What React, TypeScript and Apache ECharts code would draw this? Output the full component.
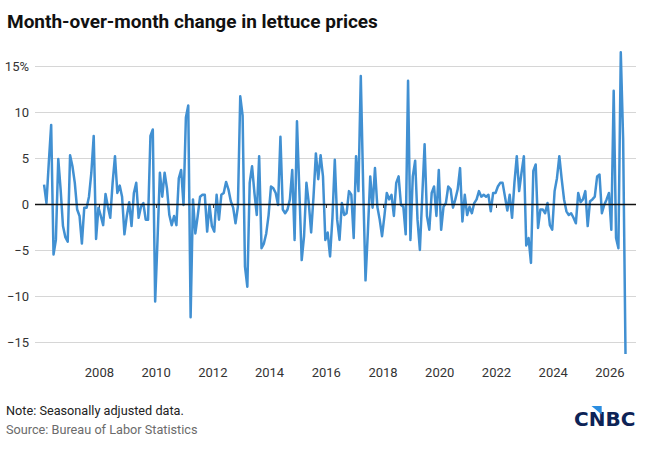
import React, { useEffect, useRef } from "react";
import * as echarts from "echarts";

// Month-over-month % change in lettuce prices (seasonally adjusted)
const START_YEAR = 2006.05; // position of the first monthly observation on the year axis
const valuesPart1: number[] = [
  2.1, 0.1, 4.5, 8.6, -5.5, -3.9, 4.9, 1.6, -2.4, -3.6, -4.1, 5.3, 4.1, 2.3, -0.6, -1.3,
  -4.3, -0.4, -0.4, 0.8, 3.4, 7.4, -3.8, -0.4, -1.3, -2.3, 1.1, -0.3, -1.5, 2.3, 5.2, 1.2,
  2.0, 0.8, -3.3, -1.3, 0.2, -2.4, 1.2, 2.3, -1.5,
];
const valuesPart2: number[] = [
  -0.3, 0.1, -1.7, -1.7, 7.4, 8.1, -10.6, -3.9, 3.4, 0.8, 3.4, 1.7, -1.2, -2.3, -1.3, -2.3,
  2.8, 3.7, -0.1, 9.4, 10.7, -12.3, 0.5, -3.2, -1.3, 0.8, 1.0, 1.0, -3.0, -0.1, -2.4, -3.0,
  1.0, -1.7, 1.0, 1.2, 2.4, 1.6, 0.3, -0.4, -2.1, -0.3, 11.7, 9.6, -6.8, -9.0,
];
const valuesPart3: number[] = [
  2.3, 4.1, 1.2, -1.2, 5.2, -4.8, -4.3, -3.2, -1.2, 1.9, 1.7, 1.2, -0.1, 7.3, -0.6, -1.0,
  -0.6, 0.5, 3.7, -3.9, 9.0, 1.5, -6.1, -3.5, 2.3, 0.1, -3.1, 0.8, 5.5, 2.7, 5.3, 3.0,
  -3.9, -3.1, -5.7, -1.5, 4.8, -1.7, -3.9, 0.1, -1.2, -1.0, 1.4, 1.0, -3.7, 5.2, 1.4, 13.9,
  2.0, -8.3, -3.0,
];
const valuesPart4: number[] = [
  3.0, -0.4, 3.9, -0.3, -1.7, -3.5, -1.3, 1.2, 0.5, 1.0, -1.3, 2.3, 3.0, -0.1, -0.3, -3.3,
  13.4, -3.9, 3.0, 4.7, -1.7, -5.0, 0.8, 6.5, -1.3, -2.8, 1.2, 1.9, -1.3, 3.7, -2.8, -0.3,
  0.1, 1.9, 1.6, -0.4, 0.5, 1.6, 3.9, -1.9, 1.0, -1.2, -0.3, -1.0, 0.1, 0.5, 1.4, 0.8,
  1.0, 0.8, 1.0,
];
const valuesPart5: number[] = [
  -0.8, 1.2, 1.2, 1.9, 2.3, 2.3, 0.8, -0.7, 1.0, -1.5, 2.3, 5.2, 1.4, 3.4, 5.2, -4.5,
  -3.7, -6.4, 3.6, 4.3, -2.6, -0.6, -0.6, -1.0, 0.1, -2.3, -2.8, 1.4, 2.8, 5.2, 2.7, 0.5,
  -0.8, -1.2, -1.0, -1.5, -2.1, 1.2, 0.2, 0.5, 1.4, -2.4, 0.3, 0.5, 0.8, 3.0, 3.2, -1.0,
  -0.1, 0.5, 1.2, -2.8, 12.3, -3.7, -4.8, 16.5, 7.0, -16.3,
];
const monthlyChange: number[] = [
  ...valuesPart1,
  ...valuesPart2,
  ...valuesPart3,
  ...valuesPart4,
  ...valuesPart5,
];

const xTickYears: number[] = [2008, 2010, 2012, 2014, 2016, 2018, 2020, 2022, 2024, 2026];
const Y_MIN = -15;
const Y_MAX = 15;
const Y_STEP = 5;

const TITLE = "Month-over-month change in lettuce prices";
const NOTE = "Note: Seasonally adjusted data.";
const SOURCE = "Source: Bureau of Labor Statistics";

export default function App() {
  const ref = useRef<HTMLDivElement>(null);

  useEffect(() => {
    if (!ref.current) return;
    const chart = echarts.init(ref.current, null, { renderer: "svg" });
    const data = monthlyChange.map((v, i) => [START_YEAR + i / 12, v]);

    chart.setOption({
      animation: false,
      backgroundColor: "#ffffff",
      grid: { left: 35, right: 18, top: 66, bottom: 117, containLabel: false },
      xAxis: {
        type: "value",
        min: 2005.73,
        max: 2026.92,
        offset: 13,
        axisLine: { show: false },
        splitLine: { show: false },
        axisTick: {
          show: true,
          length: 4,
          customValues: xTickYears,
          lineStyle: { color: "#444", width: 1 },
        },
        axisLabel: {
          customValues: xTickYears,
          margin: 11,
          fontSize: 13,
          fontFamily: "Roboto",
          color: "#333",
          formatter: (v: number) => String(Math.round(v)),
        },
      },
      yAxis: {
        type: "value",
        min: Y_MIN,
        max: Y_MAX,
        interval: Y_STEP,
        axisLine: { show: false },
        axisTick: { show: false },
        axisLabel: {
          margin: 6,
          fontSize: 13,
          fontFamily: "Roboto",
          color: "#333",
          formatter: (v: number) =>
            v === Y_MAX ? `${v}%` : v < 0 ? `\u2212${Math.abs(v)}` : String(v),
        },
        splitLine: { lineStyle: { color: "#d6d6d6", width: 1 } },
      },
      series: [
        {
          type: "line",
          data,
          showSymbol: false,
          symbol: "none",
          clip: false,
          lineStyle: { color: "#4190d2", width: 2.5, join: "round" },
          itemStyle: { color: "#4190d2" },
          markLine: {
            silent: true,
            symbol: "none",
            label: { show: false },
            lineStyle: { color: "#111", width: 1.3, type: "solid" },
            data: [{ yAxis: 0 }],
          },
        },
      ],
      graphic: [
        {
          type: "text",
          style: {
            text: TITLE,
            x: 7,
            y: 21,
            verticalAlign: "middle",
            fontFamily: "Roboto",
            fontWeight: "bold",
            fontSize: 19,
            fill: "#111",
          },
        },
        {
          type: "text",
          style: {
            text: NOTE,
            x: 6,
            y: 410,
            verticalAlign: "middle",
            fontFamily: "Roboto",
            fontSize: 12.7,
            fill: "#222",
          },
        },
        {
          type: "text",
          style: {
            text: SOURCE,
            x: 6,
            y: 429,
            verticalAlign: "middle",
            fontFamily: "Roboto",
            fontSize: 12.7,
            fill: "#6b6b6b",
          },
        },
        {
          type: "text",
          style: {
            text: "CNBC",
            x: 574,
            y: 419,
            verticalAlign: "middle",
            fontFamily: "DejaVu Sans",
            fontWeight: "bold",
            fontSize: 20,
            fill: "#0d2356",
          },
        },
        {
          type: "polygon",
          shape: { points: [[591.5, 406], [601.7, 406], [601.7, 414.5]] },
          style: { fill: "#2a8de0" },
        },
      ],
    });

    return () => chart.dispose();
  }, []);

  return (
    <div
      ref={ref}
      style={{ position: "absolute", left: 0, top: 0, width: 654, height: 459 }}
    />
  );
}
